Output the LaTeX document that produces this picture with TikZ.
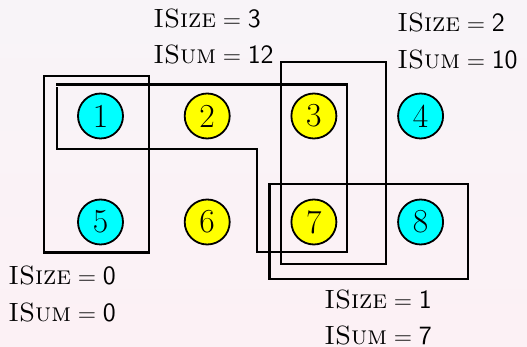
\documentclass[tikz,border=0pt]{standalone}
\usepackage{fontspec}
\begin{document}
\begin{tikzpicture}[x=0.5pt,y=-0.5pt,
  vtx/.style={circle,draw=black,line width=0.9pt,minimum size=22.5pt,inner sep=0pt,font=\fontsize{16.8}{18}\selectfont},
  cyanv/.style={vtx,fill=cyanfill},
  yelv/.style={vtx,fill=yellowfill},
  grp/.style={draw=black,line width=1.1pt},
  lbl/.style={anchor=base west,inner sep=0pt,font=\fontsize{13.2}{15}\selectfont}]
\definecolor{bgtop}{RGB}{248,244,248}
\definecolor{bgbot}{RGB}{252,241,245}
\definecolor{cyanfill}{RGB}{0,255,255}
\definecolor{yellowfill}{RGB}{255,255,0}
\shade[top color=bgtop,bottom color=bgbot] (0,0) rectangle (527,347);
\useasboundingbox (0,0) rectangle (527,347);
% vertices
\node[cyanv] (v1) at (100.5,116) {1};
\node[yelv]  (v2) at (207.2,116) {2};
\node[yelv]  (v3) at (313.9,116) {3};
\node[cyanv] (v4) at (420.6,116) {4};
\node[cyanv] (v5) at (100.5,222) {5};
\node[yelv]  (v6) at (207.2,222) {6};
\node[yelv]  (v7) at (313.9,222) {7};
\node[cyanv] (v8) at (420.6,222) {8};
% groups
\draw[grp] (44.3,75.7) rectangle (149.3,252.5);
\draw[grp] (56.2,84.5) -- (346.7,84.5) -- (346.7,251.7) -- (256.7,251.7) -- (256.7,149) -- (56.7,149) -- (56.7,87.5);
\draw[grp] (281,61.7) rectangle (386,264.3);
\draw[grp] (269.5,184.3) rectangle (468.3,279.3);
% labels
\newcommand{\isz}[1]{\textrm{\textsc{ISize}}$\;=\;$\textsf{#1}}
\newcommand{\ism}[1]{\textrm{\textsc{ISum}}$\;=\;$\textsf{#1}}
\node[lbl] (a1) at (153,28) {\isz{3}};
\node[lbl] (a2) at (153,64) {\ism{12}};
\node[lbl] (b1) at (397,32) {\isz{2}};
\node[lbl] (b2) at (397,69) {\ism{10}};
\node[lbl] (c1) at (8,285) {\isz{0}};
\node[lbl] (c2) at (8,322) {\ism{0}};
\node[lbl] (d1) at (324,309) {\isz{1}};
\node[lbl] (d2) at (324,344.5) {\ism{7}};
\end{tikzpicture}
\end{document}
